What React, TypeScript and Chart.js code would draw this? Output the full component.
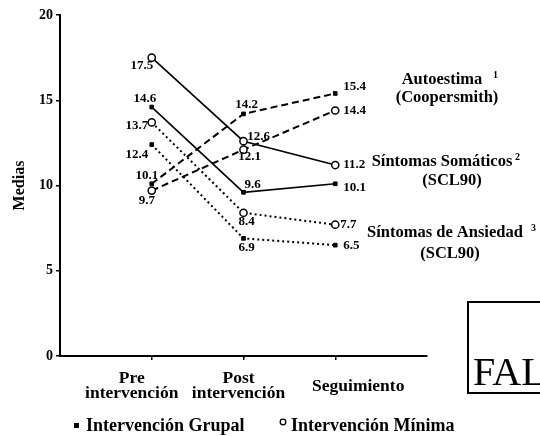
import React, { useEffect, useRef } from "react";
import { Chart, registerables } from "chart.js";

Chart.register(...registerables);

// ---- data ----
const stages = [["Pre", "intervención"], ["Post", "intervención"], ["Seguimiento"]];
const stageX = [1, 2, 3];
const yTicks = [0, 5, 10, 15, 20];

const autoestimaGrupal = [10.1, 14.2, 15.4];
const autoestimaMinima = [9.7, 12.1, 14.4];
const somaticosGrupal = [14.6, 9.6, 10.1];
const somaticosMinima = [17.5, 12.6, 11.2];
const ansiedadGrupal = [12.4, 6.9, 6.5];
const ansiedadMinima = [13.7, 8.4, 7.7];

const legendLabels = ["Intervención Grupal", "Intervención Mínima"];

const SERIF = "'Liberation Serif', 'Times New Roman', serif";

// label placement (style, not data): [dx, dy, align] per point
const labelPlacement: Record<string, [number, number, CanvasTextAlign][]> = {
  ag: [[-5, -8, "center"], [3, -9, "center"], [8, -7, "left"]],
  am: [[-5, 10, "center"], [6, 7, "center"], [8, 0, "left"]],
  sg: [[-7, -8, "center"], [9, -8, "center"], [8, 4, "left"]],
  sm: [[-10, 8, "center"], [15, -5, "center"], [8, 0, "left"]],
  ng: [[-15, 10, "center"], [3, 9, "center"], [8, 0, "left"]],
  nm: [[-15, 3, "center"], [3, 9, "center"], [5, 0, "left"]],
};
// horizontal shift of each category label from its tick
const stageLabelShift = [-20, -5, 23];

function toPts(vals: number[]) {
  return vals.map((v, i) => ({ x: stageX[i], y: v }));
}

function makeSet(key: string, label: string, vals: number[], grupal: boolean, dash: number[], width: number) {
  return {
    key,
    label,
    data: toPts(vals),
    borderColor: "#000",
    borderWidth: width,
    borderDash: dash,
    backgroundColor: grupal ? "#000" : "#fff",
    pointStyle: grupal ? "rect" : "circle",
    pointRadius: grupal ? 2.6 : 3.6,
    pointBorderWidth: grupal ? 1 : 1.5,
    pointBorderColor: "#000",
    pointBackgroundColor: grupal ? "#000" : "#fff",
    fill: false,
    tension: 0,
  };
}

const annotationPlugin = {
  id: "annot",
  afterDatasetsDraw(chart: any) {
    const ctx: CanvasRenderingContext2D = chart.ctx;
    ctx.save();
    ctx.fillStyle = "#000";
    // data labels
    ctx.font = `bold 13px ${SERIF}`;
    ctx.textBaseline = "middle";
    chart.data.datasets.forEach((ds: any, di: number) => {
      const meta = chart.getDatasetMeta(di);
      const place = labelPlacement[ds.key];
      meta.data.forEach((el: any, i: number) => {
        const [dx, dy, al] = place[i];
        ctx.textAlign = al;
        ctx.fillText(String(ds.data[i].y), el.x + dx, el.y + dy);
      });
    });

    // category labels under the x axis
    const xs = chart.scales.x;
    const axisY = chart.chartArea.bottom;
    ctx.font = `bold 17.5px ${SERIF}`;
    ctx.textAlign = "center";
    stages.forEach((lines, i) => {
      const cx = xs.getPixelForValue(stageX[i]) + stageLabelShift[i];
      const startY = axisY + 30 - ((lines.length - 1) * 15) / 2;
      lines.forEach((t, j) => ctx.fillText(t, cx, startY + j * 15));
    });

    // series annotations
    ctx.font = `bold 16.5px ${SERIF}`;
    ctx.textAlign = "center";
    ctx.fillText("Autoestima", 442, 80);
    ctx.fillText("(Coopersmith)", 447, 98);
    ctx.fillText("Síntomas Somáticos", 442, 162);
    ctx.fillText("(SCL90)", 452, 181);
    ctx.textAlign = "left";
    ctx.fillText("Síntomas de Ansiedad", 367, 233);
    ctx.textAlign = "center";
    ctx.fillText("(SCL90)", 450, 254);
    ctx.font = `bold 10px ${SERIF}`;
    ctx.textAlign = "left";
    ctx.fillText("1", 493, 75);
    ctx.fillText("2", 515, 157);
    ctx.fillText("3", 531, 228);

    // stamp box
    ctx.lineWidth = 2;
    ctx.strokeStyle = "#000";
    ctx.strokeRect(468, 302, 90, 91);
    ctx.font = `40px ${SERIF}`;
    ctx.textBaseline = "alphabetic";
    ctx.textAlign = "left";
    ctx.fillText("FALLA DE ORIGEN", 473, 385);

    // legend
    ctx.font = `bold 18px ${SERIF}`;
    ctx.textBaseline = "middle";
    ctx.fillRect(74, 423, 5, 5);
    ctx.fillText(legendLabels[0], 86, 426);
    ctx.beginPath();
    ctx.lineWidth = 1.3;
    ctx.arc(283, 422, 2.8, 0, Math.PI * 2);
    ctx.stroke();
    ctx.fillText(legendLabels[1], 291, 426);
    ctx.restore();
  },
};

export default function App() {
  const ref = useRef<HTMLCanvasElement>(null);
  useEffect(() => {
    if (!ref.current) return;
    const chart = new Chart(ref.current, {
      type: "line",
      data: {
        datasets: [
          makeSet("ag", "Autoestima Grupal", autoestimaGrupal, true, [7, 4], 2),
          makeSet("am", "Autoestima Mínima", autoestimaMinima, false, [7, 4], 2),
          makeSet("sg", "Somáticos Grupal", somaticosGrupal, true, [], 1.6),
          makeSet("sm", "Somáticos Mínima", somaticosMinima, false, [], 1.6),
          makeSet("ng", "Ansiedad Grupal", ansiedadGrupal, true, [2, 3], 2),
          makeSet("nm", "Ansiedad Mínima", ansiedadMinima, false, [2, 3], 2),
        ] as any,
      },
      options: {
        animation: false,
        responsive: false,
        devicePixelRatio: 1,
        layout: { padding: { left: 0, top: 15, right: 113, bottom: 20 } },
        plugins: { legend: { display: false }, tooltip: { enabled: false } },
        scales: {
          x: {
            type: "linear",
            min: 0,
            max: 4,
            afterBuildTicks: (s: any) => {
              s.ticks = stageX.map((v) => ({ value: v }));
            },
            afterFit: (s: any) => {
              s.height = 60;
            },
            grid: { drawOnChartArea: false, drawTicks: true, tickLength: 4, color: "#000", lineWidth: 1.5 },
            border: { display: true, color: "#000", width: 2 },
            ticks: { display: false },
          },
          y: {
            min: 0,
            max: 20,
            afterBuildTicks: (s: any) => {
              s.ticks = yTicks.map((v) => ({ value: v }));
            },
            afterFit: (s: any) => {
              s.width = 60;
            },
            grid: { drawOnChartArea: false, drawTicks: true, tickLength: 4, color: "#000", lineWidth: 1.5 },
            border: { display: true, color: "#000", width: 2 },
            title: {
              display: true,
              text: "Medias",
              color: "#000",
              font: { family: SERIF, size: 16, weight: "bold" },
              padding: { top: 10, bottom: 0 },
            },
            ticks: {
              padding: 3,
              color: "#000",
              font: { family: SERIF, size: 14, weight: "bold" },
            },
          },
        },
      },
      plugins: [annotationPlugin],
    });
    return () => chart.destroy();
  }, []);
  return (
    <div style={{ position: "absolute", left: 0, top: 0, width: 540, height: 436, background: "#fff" }}>
      <canvas ref={ref} width={540} height={436} />
    </div>
  );
}
